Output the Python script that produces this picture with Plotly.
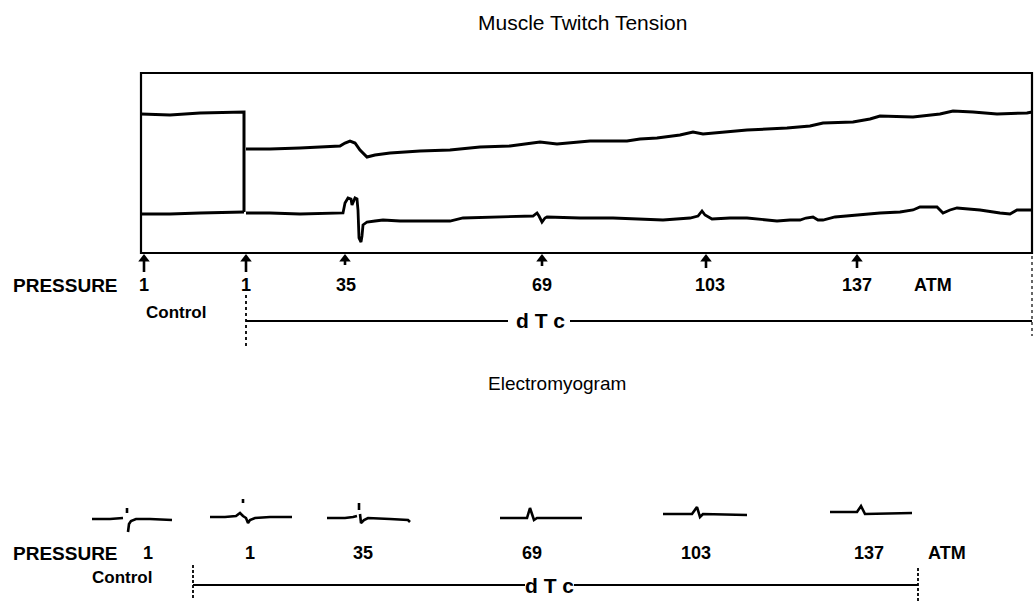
import plotly.graph_objects as go

# ---------------- data (canvas units) ----------------
# Muscle twitch tension: control period (rectangle) and dTc period traces
ctrl_upper_x = [141, 170, 200, 244, 244]
ctrl_upper_y = [114, 115, 113, 112, 212]
ctrl_lower_x = [141, 170, 200, 244]
ctrl_lower_y = [214, 214, 213, 212]

dtc_upper_x = [246, 270, 300, 330, 340, 345, 350, 355, 360, 367, 375, 390, 420, 450, 480, 510, 540, 557,
               570, 590, 627, 640, 657, 680, 693, 703, 747, 787, 810, 823, 853, 870, 880, 913, 940, 953,
               973, 997, 1027, 1032]
dtc_upper_y = [149, 149, 148, 146, 146, 143, 141, 143, 150, 157, 155, 153, 151, 150, 147, 146, 142, 144,
               143, 141, 141, 139, 138, 135, 132, 134, 130, 128, 126, 123, 122, 119, 116, 117, 114, 111,
               112, 114, 113, 112]

dtc_lower_x = [246, 270, 300, 330, 343, 345, 348, 351, 352, 355, 357, 358, 359, 361, 362, 363, 367, 375,
               383, 400, 430, 450, 463, 500, 533, 537, 539, 542, 545, 547, 580, 613, 640, 663, 690, 698,
               702, 705, 712, 730, 747, 777, 790, 800, 806, 813, 818, 823, 835, 847, 865, 880, 900, 913,
               920, 930, 937, 943, 950, 957, 980, 1000, 1010, 1017, 1032]
dtc_lower_y = [213, 213, 214, 213, 213, 203, 198, 199, 205, 198, 199, 210, 238, 242, 236, 225, 222, 221,
               220, 221, 221, 221, 218, 217, 216, 213, 216, 222, 218, 217, 218, 218, 219, 220, 218, 216,
               211, 215, 219, 218, 218, 221, 220, 220, 218, 217, 220, 220, 217, 216, 214, 213, 212, 210,
               207, 207, 207, 213, 210, 208, 210, 213, 214, 210, 210]

# recorder frame
frame_x = [141, 1032]
frame_y = [73, 253]

# pressure markers (top chart)
top_marker_x = [144, 246, 345, 542, 706, 857]
top_marker_tail = [272, 272, 265, 266, 268, 268]
top_labels = ["1", "1", "35", "69", "103", "137", "ATM"]
top_label_x = [144, 246, 346, 542, 710, 857, 933]

# Electromyogram sweeps
emg1_x = [92, 110, 123, None, 127, 127, None, 128, 129, 131, 136, 150, 172]
emg1_y = [519, 519, 518, None, 508, 513, None, 532, 524, 521, 519, 519, 520]
emg2_x = [210, 225, 236, 240, 243, 246, 248, 250, 255, 270, 292, None, 243, 243]
emg2_y = [517, 517, 516, 513, 516, 518, 523, 520, 518, 517, 517, None, 499, 503]
emg3_x = [327, 345, 353, 357, None, 359, 359, None, 360, 361, 364, 368, 390, 408, 410]
emg3_y = [518, 518, 517, 516, None, 503, 510, None, 514, 523, 520, 518, 519, 520, 522]
emg4_x = [500, 527, 530, 534, 537, 582]
emg4_y = [518, 518, 508, 520, 518, 518]
emg5_x = [663, 692, 697, 700, 703, 747]
emg5_y = [514, 514, 507, 517, 514, 515]
emg6_x = [830, 857, 861, 865, 912]
emg6_y = [512, 512, 506, 514, 513]

bot_labels = ["1", "1", "35", "69", "103", "137", "ATM"]
bot_label_x = [148, 250, 363, 532, 696, 869, 947]

FONT_B = "Liberation Sans"
INK = "#000000"

fig = go.Figure()

def line(x, y, w=2.4, dash=None):
    fig.add_trace(go.Scatter(x=x, y=y, mode="lines", hoverinfo="skip",
                             line=dict(color=INK, width=w, dash=dash, shape="linear")))

# frame
fig.add_shape(type="rect", xref="x", yref="y", x0=frame_x[0], x1=frame_x[1], y0=frame_y[0], y1=frame_y[1],
              line=dict(color=INK, width=2.2))

# tension traces
line(ctrl_upper_x, ctrl_upper_y, 3.0)
line(ctrl_lower_x, ctrl_lower_y, 2.8)
line(dtc_upper_x, dtc_upper_y, 3.0)
line(dtc_lower_x, dtc_lower_y, 2.8)

# pressure arrows (shaft + head)
for mx, tail in zip(top_marker_x, top_marker_tail):
    line([mx, mx], [257, tail], 2.6)
fig.add_trace(go.Scatter(x=top_marker_x, y=[259] * len(top_marker_x), mode="markers", hoverinfo="skip",
                         marker=dict(symbol="triangle-up", size=10, color=INK, line=dict(width=0))))

# dashed guides top
line([246, 246], [295, 346], 1.8, "3px,3px")
line([1032, 1032], [256, 336], 1.2, "3px,3px")
# dTc bar top
line([246, 508], [321, 321], 1.8)
line([570, 1032], [321, 321], 1.8)

# EMG sweeps
for ex, ey in [(emg1_x, emg1_y), (emg2_x, emg2_y), (emg3_x, emg3_y),
               (emg4_x, emg4_y), (emg5_x, emg5_y), (emg6_x, emg6_y)]:
    fig.add_trace(go.Scatter(x=ex, y=ey, mode="lines", hoverinfo="skip", connectgaps=False,
                             line=dict(color=INK, width=2.6)))

# dashed guides bottom
line([193, 193], [565, 600], 1.8, "3px,2px")
line([918, 918], [568, 603], 1.8, "3px,2px")
# dTc bar bottom
line([193, 525], [585, 585], 1.8)
line([574, 918], [585, 585], 1.8)

def txt(x, y, s, size, bold=True, xanchor="center"):
    fig.add_annotation(x=x, y=y, xref="x", yref="y", text=(f"<b>{s}</b>" if bold else s), showarrow=False,
                       xanchor=xanchor, yanchor="middle",
                       font=dict(family=FONT_B, size=size, color=INK))

txt(582, 22, "Muscle Twitch Tension", 21, bold=False)
txt(557, 383, "Electromyogram", 19, bold=False)

txt(11, 285, "PRESSURE", 19, xanchor="left")
for s, x in zip(top_labels, top_label_x):
    txt(x, 285, s, 18)
txt(176, 312, "Control", 17)
txt(540, 320, "d T c", 21)

txt(11, 553, "PRESSURE", 19, xanchor="left")
for s, x in zip(bot_labels, bot_label_x):
    txt(x, 553, s, 18)
txt(122, 577, "Control", 17)
txt(549, 585, "d T c", 21)

fig.update_layout(
    width=1034, height=603, margin=dict(l=0, r=0, t=0, b=0),
    paper_bgcolor="white", plot_bgcolor="white", showlegend=False,
    xaxis=dict(range=[0, 1034], visible=False, fixedrange=True),
    yaxis=dict(range=[603, 0], visible=False, fixedrange=True),
)

fig.write_html("out.html", config={"displayModeBar": False, "staticPlot": True},
               post_script="document.body.style.margin='0';document.body.style.overflow='hidden';")
